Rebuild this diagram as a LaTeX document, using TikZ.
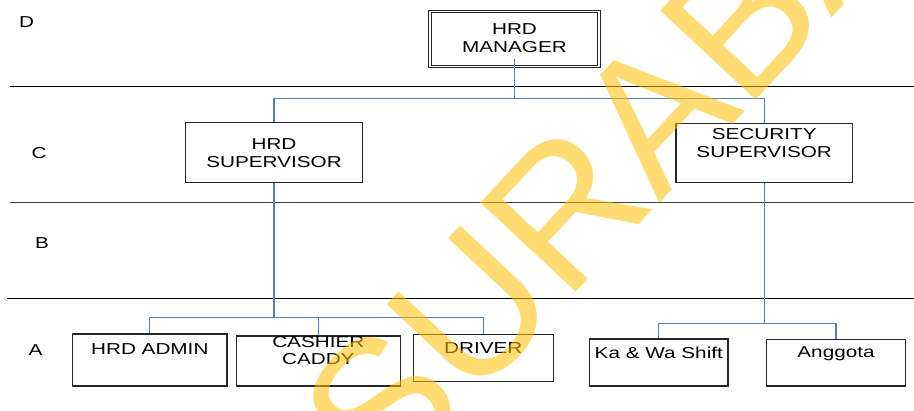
\documentclass[tikz,border=0pt]{standalone}
\usepackage{fontspec}
\setmainfont{Liberation Sans}[FakeStretch=1.31]
\newfontfamily\wmfont{Liberation Sans}
\usepackage{tikz}
\usetikzlibrary{positioning}
\definecolor{linkblue}{RGB}{79,129,189}
\definecolor{wmyellow}{RGB}{255,192,0}
\tikzset{
  box/.style = {draw=black!85, line width=0.7pt, rectangle, inner sep=0pt},
  topbox/.style = {box, double, double distance=1.1pt, line width=0.55pt},
  lbl/.style = {inner sep=0pt, align=center, font=\fontsize{9}{9.9}\selectfont},
  link/.style = {draw=linkblue, line width=0.6pt},
  rule/.style = {draw=black, line width=0.6pt},
  wmark/.style = {inner sep=0pt, text=wmyellow, text opacity=0.55, font=\wmfont\fontsize{108}{108}\selectfont, rotate=47, anchor=base west}
}
\begin{document}
\begin{tikzpicture}[x=0.02cm, y=-0.02cm]
            \useasboundingbox (0,0) rectangle (914,411);
            \draw[rule] (10,86.7) -- (914,86.7);
            \draw[rule, draw=black!75, line width=0.85pt] (10,202.7) -- (914,202.7);
            \draw[rule] (7,298.3) -- (914,298.3);
            \node[lbl] (lvlD) at (26.5,21.7) {D};
            \node[lbl] (lvlC) at (39,153.3) {C};
            \node[lbl] (lvlB) at (42,243) {B};
            \node[lbl] (lvlA) at (35.5,350) {A};
            \node[topbox, minimum width=3.38cm, minimum height=1.10cm] (mgr) at (514.5,39) {};
            \node[lbl, below=7.1pt of mgr.north] (mgrtxt) {HRD\\MANAGER};
            \node[box, minimum width=3.55cm, minimum height=1.19cm] (hrdsup) at (274,152.5) {};
            \node[lbl, below=9.4pt of hrdsup.north] (hrdsuptxt) {HRD\\SUPERVISOR};
            \node[box, minimum width=3.53cm, minimum height=1.18cm] (secsup) at (764.2,153.2) {};
            \node[lbl, below=3pt of secsup.north] (secsuptxt) {SECURITY\\SUPERVISOR};
            \node[box, minimum width=3.09cm, minimum height=1.04cm] (hrdadmin) at (149.8,360) {};
            \node[lbl, below=5.8pt of hrdadmin.north] (hrdadmintxt) {HRD ADMIN};
            \node[box, minimum width=3.28cm, minimum height=1.0cm] (cashier) at (318.3,361) {};
            \node[lbl, below=0.4pt of cashier.north] (cashiertxt) {CASHIER\\CADDY};
            \node[box, minimum width=2.80cm, minimum height=0.94cm] (driver) at (483.3,357.8) {};
            \node[lbl, below=4.8pt of driver.north] (drivertxt) {DRIVER};
            \node[box, minimum width=2.77cm, minimum height=0.94cm] (kawa) at (658.8,362.5) {};
            \node[lbl, below=4.7pt of kawa.north] (kawatxt) {Ka \& Wa Shift};
            \node[box, minimum width=2.78cm, minimum height=0.93cm] (anggota) at (836,362.7) {};
            \node[lbl, below=4.5pt of anggota.north] (anggotatxt) {Anggota};
            \coordinate (busD) at (mgr.south |- 0,98.5);
            \coordinate (busC) at (hrdsup.south |- 0,317.7);
            \coordinate (busB) at (secsup.south |- 0,323.3);
            \draw[link] ([yshift=4.5pt]mgr.south) -- (busD);
            \draw[link] (busD) -| (hrdsup.north);
            \draw[link] (busD) -| (secsup.north);
            \draw[link] (hrdsup.south) -- (busC);
            \draw[link] (busC) -| (hrdadmin.north);
            \draw[link] (busC) -| (cashier.north);
            \draw[link] (busC) -| (driver.north);
            \draw[link] (secsup.south) -- (busB);
            \draw[link] (busB) -| (kawa.north);
            \draw[link] (busB) -| (anggota.north);
            \begin{scope}
              \clip (0,0) rectangle (914,411);
              \node[wmark] (wm) at (385.7,497) {SURABA};
            \end{scope}
\end{tikzpicture}
\end{document}
